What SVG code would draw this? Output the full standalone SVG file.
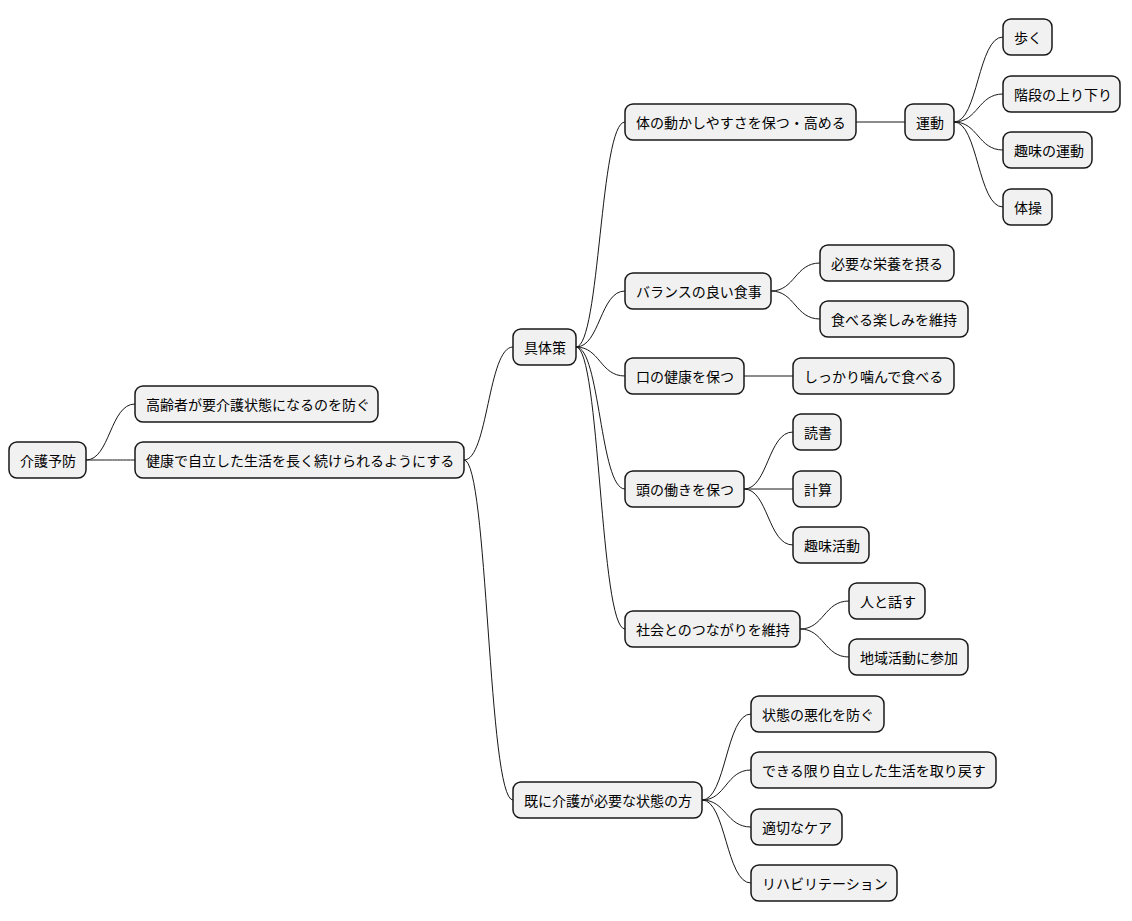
<svg xmlns="http://www.w3.org/2000/svg" width="1132" height="921" viewBox="0 0 1132 921">
<style>
rect{fill:#f1f1f1;stroke:#181818;stroke-width:1.5}
text{font-family:"Noto Sans CJK JP","Noto Sans",sans-serif;font-size:14px;fill:#000;dominant-baseline:central}
#connectors path{fill:none;stroke:#181818;stroke-width:1}
</style>
<rect width="1132" height="921" style="fill:#fff;stroke:none"/>
<g id="connectors">
<path d="M86,460 C110,460 110,404 135,404"/>
<path d="M86,460 C110,460 110,460 135,460"/>
<path d="M464,460 C488,460 488,347 513,347"/>
<path d="M464,460 C488,460 488,800 513,800"/>
<path d="M576,347 C600,347 600,122 625,122"/>
<path d="M576,347 C600,347 600,291 625,291"/>
<path d="M576,347 C600,347 600,376 625,376"/>
<path d="M576,347 C600,347 600,489 625,489"/>
<path d="M576,347 C600,347 600,629 625,629"/>
<path d="M856,122 L905,122"/>
<path d="M954,122 C978,122 978,37 1003,37"/>
<path d="M954,122 C978,122 978,94 1003,94"/>
<path d="M954,122 C978,122 978,150 1003,150"/>
<path d="M954,122 C978,122 978,207 1003,207"/>
<path d="M771,291 C795,291 795,263 820,263"/>
<path d="M771,291 C795,291 795,319 820,319"/>
<path d="M744,376 L793,376"/>
<path d="M744,489 C768,489 768,432 793,432"/>
<path d="M744,489 L793,489"/>
<path d="M744,489 C768,489 768,545 793,545"/>
<path d="M800,629 C824,629 824,601 849,601"/>
<path d="M800,629 C824,629 824,657 849,657"/>
<path d="M702,800 C726,800 726,714 751,714"/>
<path d="M702,800 C726,800 726,770 751,770"/>
<path d="M702,800 C726,800 726,827 751,827"/>
<path d="M702,800 C726,800 726,883 751,883"/>
</g>
<g id="n1"><rect x="9" y="442" width="77" height="36" rx="8"/><text x="20" y="460">介護予防</text></g>
<g id="n2"><rect x="135" y="386" width="243" height="36" rx="8"/><text x="146" y="404">高齢者が要介護状態になるのを防ぐ</text></g>
<g id="n3"><rect x="135" y="442" width="329" height="36" rx="8"/><text x="146" y="460">健康で自立した生活を長く続けられるようにする</text></g>
<g id="n4"><rect x="513" y="329" width="63" height="36" rx="8"/><text x="524" y="347">具体策</text></g>
<g id="n5"><rect x="513" y="782" width="189" height="36" rx="8"/><text x="524" y="800">既に介護が必要な状態の方</text></g>
<g id="n6"><rect x="625" y="104" width="231" height="36" rx="8"/><text x="636" y="122">体の動かしやすさを保つ・高める</text></g>
<g id="n7"><rect x="905" y="104" width="49" height="36" rx="8"/><text x="916" y="122">運動</text></g>
<g id="n8"><rect x="1003" y="19" width="49" height="36" rx="8"/><text x="1014" y="37">歩く</text></g>
<g id="n9"><rect x="1003" y="76" width="117" height="36" rx="8"/><text x="1014" y="94">階段の上り下り</text></g>
<g id="n10"><rect x="1003" y="132" width="89" height="36" rx="8"/><text x="1014" y="150">趣味の運動</text></g>
<g id="n11"><rect x="1003" y="189" width="49" height="36" rx="8"/><text x="1014" y="207">体操</text></g>
<g id="n12"><rect x="625" y="273" width="146" height="36" rx="8"/><text x="636" y="291">バランスの良い食事</text></g>
<g id="n13"><rect x="820" y="245" width="134" height="36" rx="8"/><text x="831" y="263">必要な栄養を摂る</text></g>
<g id="n14"><rect x="820" y="301" width="148" height="36" rx="8"/><text x="831" y="319">食べる楽しみを維持</text></g>
<g id="n15"><rect x="625" y="358" width="119" height="36" rx="8"/><text x="636" y="376">口の健康を保つ</text></g>
<g id="n16"><rect x="793" y="358" width="161" height="36" rx="8"/><text x="804" y="376">しっかり噛んで食べる</text></g>
<g id="n17"><rect x="625" y="471" width="119" height="36" rx="8"/><text x="636" y="489">頭の働きを保つ</text></g>
<g id="n18"><rect x="793" y="414" width="48" height="36" rx="8"/><text x="804" y="432">読書</text></g>
<g id="n19"><rect x="793" y="471" width="48" height="36" rx="8"/><text x="804" y="489">計算</text></g>
<g id="n20"><rect x="793" y="527" width="76" height="36" rx="8"/><text x="804" y="545">趣味活動</text></g>
<g id="n21"><rect x="625" y="611" width="175" height="36" rx="8"/><text x="636" y="629">社会とのつながりを維持</text></g>
<g id="n22"><rect x="849" y="583" width="76" height="36" rx="8"/><text x="860" y="601">人と話す</text></g>
<g id="n23"><rect x="849" y="639" width="119" height="36" rx="8"/><text x="860" y="657">地域活動に参加</text></g>
<g id="n24"><rect x="751" y="696" width="133" height="36" rx="8"/><text x="762" y="714">状態の悪化を防ぐ</text></g>
<g id="n25"><rect x="751" y="752" width="245" height="36" rx="8"/><text x="762" y="770">できる限り自立した生活を取り戻す</text></g>
<g id="n26"><rect x="751" y="809" width="91" height="36" rx="8"/><text x="762" y="827">適切なケア</text></g>
<g id="n27"><rect x="751" y="865" width="146" height="36" rx="8"/><text x="762" y="883">リハビリテーション</text></g>
</svg>
